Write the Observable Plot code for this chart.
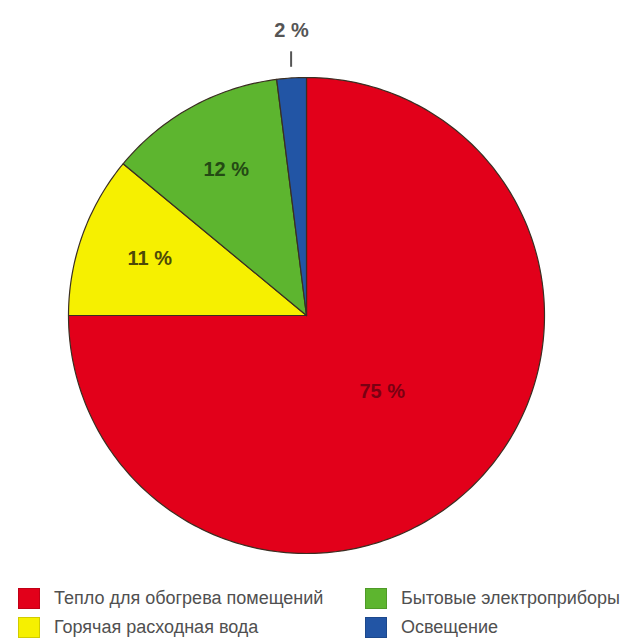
<!DOCTYPE html>
<html>
<head>
<meta charset="utf-8">
<script src="https://cdn.jsdelivr.net/npm/d3@7"></script>
<script src="https://cdn.jsdelivr.net/npm/@observablehq/plot@0.6"></script>
<style>
  html, body { margin: 0; padding: 0; background: #fff; }
  body { width: 632px; height: 644px; overflow: hidden; font-family: "Liberation Sans", Arial, sans-serif; }
  #legend { position: relative; height: 64px; }
  .item { position: absolute; display: flex; align-items: center; font-size: 18px; color: #505050; white-space: nowrap; }
  .sw { width: 22px; height: 21px; margin-right: 14px; border: 1px solid rgba(0,0,0,0.15); box-sizing: border-box; }
</style>
</head>
<body>
<div id="chart"></div>
<div id="legend"></div>
<script>
// Data
const categories = ["Тепло для обогрева помещений", "Горячая расходная вода", "Бытовые электроприборы", "Освещение"];
const values = [75, 11, 12, 2];
const labels = ["75 %", "11 %", "12 %", "2 %"];
const colors = ["#e2001a", "#f6f000", "#5db52f", "#2255a5"];
const labelColors = ["#7a0012", "#4d4a08", "#244a14", "#555555"];

// Build slices (angles clockwise from 12 o'clock)
const total = d3.sum(values);
let acc = 0;
const slices = values.map((v, i) => {
  const a0 = acc / total * 2 * Math.PI;
  acc += v;
  const a1 = acc / total * 2 * Math.PI;
  return {cat: categories[i], value: v, label: labels[i], a0, a1, mid: (a0 + a1) / 2, i};
});
const pts = [];
for (const s of slices) {
  pts.push({cat: s.cat, x: 0, y: 0});
  const n = Math.max(4, Math.ceil((s.a1 - s.a0) / (Math.PI / 180)));
  for (let k = 0; k <= n; k++) {
    const a = s.a0 + (s.a1 - s.a0) * k / n;
    pts.push({cat: s.cat, x: Math.sin(a), y: Math.cos(a)});
  }
  pts.push({cat: s.cat, x: 0, y: 0});
}
const inner = slices.filter(s => s.value >= 5);
const outer = slices.filter(s => s.value < 5);
const rLabel = s => s.value > 50 ? 0.45 : 0.7;

const chart = Plot.plot({
  width: 632,
  height: 580,
  marginLeft: 68,
  marginRight: 88,
  marginTop: 77,
  marginBottom: 27,
  x: {domain: [-1, 1], axis: null},
  y: {domain: [-1, 1], axis: null},
  color: {domain: categories, range: colors},
  style: {background: "transparent", overflow: "visible"},
  marks: [
    Plot.line(pts, {x: "x", y: "y", z: "cat", fill: "cat", stroke: "#3b2e22", strokeWidth: 1.2, strokeLinejoin: "round", curve: "linear"}),
    Plot.text(inner, {
      x: s => Math.sin(s.mid) * rLabel(s),
      y: s => Math.cos(s.mid) * rLabel(s),
      text: "label",
      fill: s => labelColors[s.i],
      fontSize: 20, fontWeight: "bold",
      fontFamily: "Liberation Sans, Arial, sans-serif"
    }),
    Plot.link(outer, {
      x1: s => Math.sin(s.mid) * 1.03, y1: 1.045,
      x2: s => Math.sin(s.mid) * 1.03, y2: 1.11,
      stroke: "#555", strokeWidth: 2
    }),
    Plot.text(outer, {
      x: s => Math.sin(s.mid) * 1.0,
      y: 1.195,
      text: "label",
      fill: s => labelColors[s.i],
      fontSize: 20, fontWeight: "bold",
      fontFamily: "Liberation Sans, Arial, sans-serif"
    })
  ]
});
document.getElementById("chart").appendChild(chart);

// Legend (two columns)
const legend = document.getElementById("legend");
const order = [0, 2, 1, 3];
const pos = [[18, 8], [365, 8], [18, 37], [365, 37]];
order.forEach((ci, k) => {
  const el = document.createElement("div");
  el.className = "item";
  el.style.left = pos[k][0] + "px";
  el.style.top = pos[k][1] + "px";
  const sw = document.createElement("span");
  sw.className = "sw";
  sw.style.background = colors[ci];
  const tx = document.createElement("span");
  tx.textContent = categories[ci];
  el.appendChild(sw); el.appendChild(tx);
  legend.appendChild(el);
});
</script>
</body>
</html>
